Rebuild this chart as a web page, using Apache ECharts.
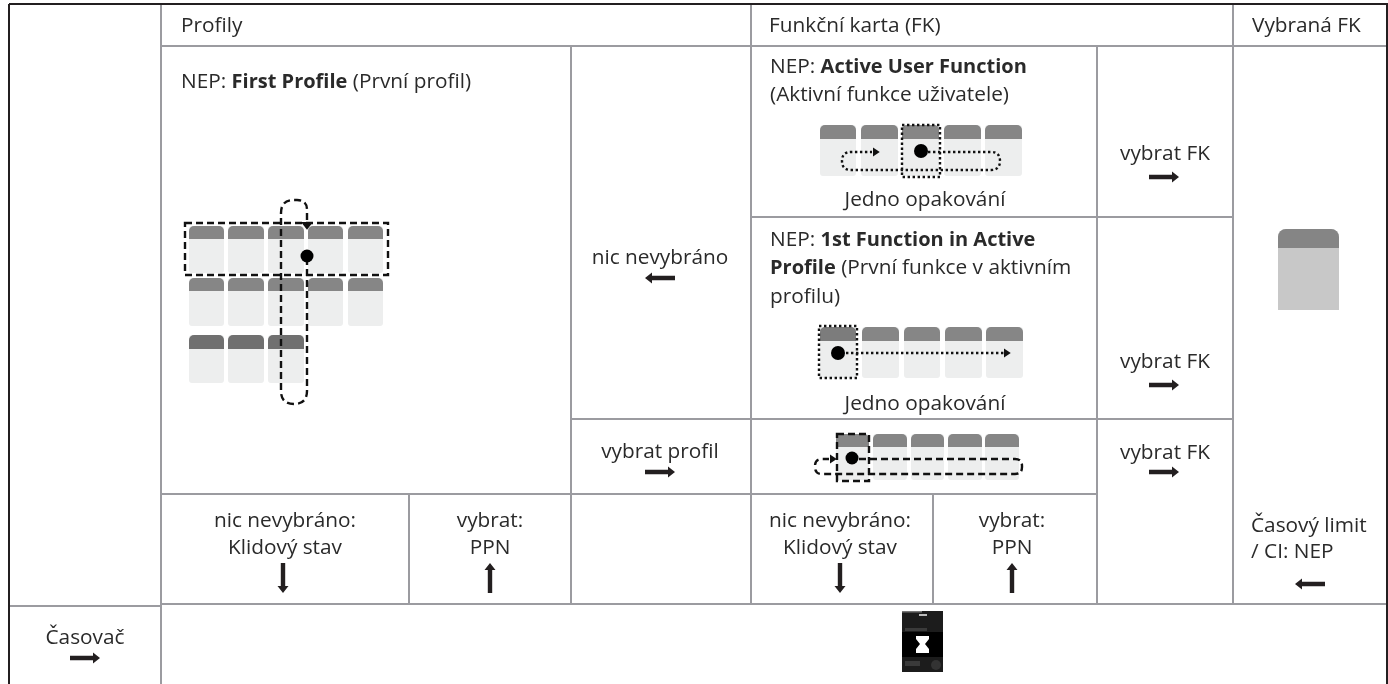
<!DOCTYPE html>
<html><head><meta charset="utf-8">
<style>html,body{margin:0;padding:0;background:#fff}#c{width:1388px;height:684px}</style>
<script src="https://cdn.jsdelivr.net/npm/echarts@6/dist/echarts.min.js"></script>
</head><body><div id="c"></div>
<script>
// [x1,y1,x2,y2]
const gridLines=[[161,4,161,684],[161,46,1387,46],[751,4,751,604],[1233,4,1233,604],[571,46,571,604],[1097,46,1097,604],
[751,217,1233,217],[571,419,1233,419],[161,494,1097,494],[409,494,409,604],[933,494,933,604],[9,606,161,606],[161,604,1387,604]];
const borderLines=[[9,4,1388,4],[9,4,9,684],[1387,4,1387,684]];
// [cx or left, y, align, text]
const labels=[
[181,25,'left','Profily'],[769,25,'left','Funkční karta (FK)'],[1252,25,'left','Vybraná FK'],
[181,81,'left','NEP: {b|First Profile} (První profil)'],
[770,66,'left','NEP: {b|Active User Function}'],[770,94,'left','(Aktivní funkce uživatele)'],
[925,199,'center','Jedno opakování'],
[770,239,'left','NEP: {b|1st Function in Active}'],[770,267,'left','{b|Profile} (První funkce v aktivním'],[770,296,'left','profilu)'],
[925,403,'center','Jedno opakování'],
[1165,153,'center','vybrat FK'],[1165,361,'center','vybrat FK'],[1165,452,'center','vybrat FK'],
[660,257,'center','nic nevybráno'],[660,451,'center','vybrat profil'],
[285,520,'center','nic nevybráno:'],[285,547,'center','Klidový stav'],
[490,520,'center','vybrat:'],[490,547,'center','PPN'],
[840,520,'center','nic nevybráno:'],[840,547,'center','Klidový stav'],
[1012,520,'center','vybrat:'],[1012,547,'center','PPN'],
[1251,525,'left','Časový limit'],[1251,551,'left','/ CI: NEP'],
[85,637,'center','Časovač']];
// [x,y,w,h,headerH,headerColor]
const cards=[
[189,226,35,47,13,'#868686'],[228,226,36,47,13,'#868686'],[268,226,36,47,13,'#868686'],[308,226,35,47,13,'#868686'],[348,226,35,47,13,'#868686'],
[189,278,35,48,13,'#868686'],[228,278,36,48,13,'#868686'],[268,278,36,48,13,'#868686'],[308,278,35,48,13,'#868686'],[348,278,35,48,13,'#868686'],
[189,335,35,48,14,'#707070'],[228,335,36,48,14,'#707070'],[268,335,36,48,14,'#707070'],
[820,125,36,51,14,'#868686'],[861,125,37,51,14,'#868686'],[902,125,37,51,14,'#868686'],[944,125,37,51,14,'#868686'],[985,125,37,51,14,'#868686'],
[820,327,36,51,14,'#7c7c7c'],[862,327,37,51,14,'#868686'],[904,327,36,51,14,'#868686'],[945,327,37,51,14,'#868686'],[986,327,37,51,14,'#868686'],
[836,434,33,46,13,'#868686'],[873,434,34,46,13,'#868686'],[911,434,33,46,13,'#868686'],[948,434,34,46,13,'#868686'],[985,434,34,46,13,'#868686']];
const bigCard=[1278,229,61,81,19];
// [x,y,r]
const dots=[[307,256,6.5],[921,151,7],[838,353,7],[852,458,6.5]];
// [x,y,w,h,dash]
const boxes=[[185,223,203,52,'dash'],[902,125,38,52,'dot'],[819,326,38,52,'dot'],[837,434,32,47,'dash']];
// polyline routes [dash, points...], arcs are sampled by rounded corners r
const routes=[
['dash',[[307,258],[307,404],[281,404],[281,200],[307,200],[307,220]],13,[307,222,'down']],
['dot',[[928,152],[1000,152],[1000,170],[842,170],[842,152],[872,152]],9,[873,152,'right']],
['dot',[[846,353],[1004,353]],0,[1004,353,'right']],
['dash',[[859,459],[1022,459],[1022,474],[815,474],[815,459],[829,459]],7,[830,459,'right']]];
// [x,y,dir]
const arrows=[[70,658,'right'],[645,278,'left'],[1149,177,'right'],[1149,385,'right'],[1149,472,'right'],[645,472,'right'],
[283,563,'down'],[490,563,'up'],[840,563,'down'],[1012,563,'up'],[1295,584,'left']];

const chart=echarts.init(document.getElementById('c'),null,{renderer:'canvas'});
const font='"Open Sans", sans-serif';
const fs=20.8, fb=20;
const txtColor='#2a2a2a';
const P=(api,x,y)=>api.coord([x,y]);
function lineSeries(name,data,color,width){
 return {type:'custom',name,coordinateSystem:'cartesian2d',silent:true,clip:false,data,
 renderItem(p,api){const a=P(api,api.value(0),api.value(1)),b=P(api,api.value(2),api.value(3));
  return {type:'line',shape:{x1:a[0],y1:a[1],x2:b[0],y2:b[1]},style:{stroke:color,lineWidth:width}};}};
}
function pathOf(pts,r){
 let d='M'+pts[0].join(' ');
 for(let i=1;i<pts.length;i++){const c=pts[i];
  if(i<pts.length-1&&r>0){const n=pts[i+1],pr=pts[i-1];
   const ux=Math.sign(c[0]-pr[0]),uy=Math.sign(c[1]-pr[1]),vx=Math.sign(n[0]-c[0]),vy=Math.sign(n[1]-c[1]);
   const la=Math.abs(c[0]-pr[0])+Math.abs(c[1]-pr[1]),lb=Math.abs(n[0]-c[0])+Math.abs(n[1]-c[1]);
   const rr=Math.min(r,la/2,lb/2);
   d+=' L'+(c[0]-ux*rr)+' '+(c[1]-uy*rr)+' Q'+c[0]+' '+c[1]+' '+(c[0]+vx*rr)+' '+(c[1]+vy*rr);
  } else d+=' L'+c.join(' ');
 }
 return d;
}
const dashOf=k=>k==='dash'?[7,4]:[2.4,2.6];
function head(x,y,dir,s){
 const m={right:[[x,y-s],[x+s*1.5,y],[x,y+s]],left:[[x,y-s],[x-s*1.5,y],[x,y+s]],down:[[x-s,y],[x,y+s*1.3],[x+s,y]],up:[[x-s,y],[x,y-s*1.3],[x+s,y]]}[dir];
 return {type:'polygon',shape:{points:m},style:{fill:'#111'}};
}
const option={animation:false,
 grid:{left:0,right:0,top:0,bottom:0},
 xAxis:{type:'value',min:0,max:1388,show:false},
 yAxis:{type:'value',min:0,max:684,inverse:true,show:false},
 series:[
 lineSeries('grid',gridLines,'#9b9ba0',2),
 lineSeries('border',borderLines,'#231f20',2),
 {type:'custom',name:'cards',silent:true,data:cards.map(c=>c.slice(0,5)),
  renderItem(p,api){const c=cards[p.dataIndex],a=P(api,c[0],c[1]);
   return {type:'group',children:[
    {type:'rect',shape:{x:a[0],y:a[1],width:c[2],height:c[3],r:3},style:{fill:'#edeeee'}},
    {type:'rect',shape:{x:a[0],y:a[1],width:c[2],height:c[4],r:[5,5,0,0]},style:{fill:c[5]}}]};}},
 {type:'custom',name:'bigCard',silent:true,data:[bigCard],
  renderItem(p,api){const c=bigCard,a=P(api,c[0],c[1]);
   return {type:'group',children:[
    {type:'rect',shape:{x:a[0],y:a[1],width:c[2],height:c[3],r:[8,8,0,0]},style:{fill:'#c8c8c8'}},
    {type:'rect',shape:{x:a[0],y:a[1],width:c[2],height:c[4],r:[8,8,0,0]},style:{fill:'#858585'}}]};}},
 {type:'custom',name:'device',silent:true,data:[[902,611,41,61]],
  renderItem(p,api){const a=P(api,api.value(0),api.value(1)),x=a[0],y=a[1];
   const hg=[[x+14,y+25],[x+27,y+25],[x+27,y+28],[x+23,y+33],[x+27,y+38],[x+27,y+42],[x+14,y+42],[x+14,y+38],[x+18,y+33],[x+14,y+28]];
   return {type:'group',children:[
    {type:'rect',shape:{x,y,width:41,height:61},style:{fill:'#1c1c1c'}},
    {type:'rect',shape:{x,y,width:20,height:1.5},style:{fill:'#777'}},
    {type:'rect',shape:{x,y:y+21,width:41,height:25},style:{fill:'#000'}},
    {type:'rect',shape:{x:x+17,y:y+3,width:8,height:2},style:{fill:'#bbb'}},
    {type:'rect',shape:{x:x+3,y:y+17,width:22,height:3},style:{fill:'#3a3a3a'}},
    {type:'rect',shape:{x:x+3,y:y+50,width:15,height:5},style:{fill:'#3a3a3a'}},
    {type:'circle',shape:{cx:x+34,cy:y+54,r:5},style:{fill:'#333'}},
    {type:'polygon',shape:{points:hg},style:{fill:'#fff'}}]};}},
 {type:'custom',name:'boxes',silent:true,data:boxes.map(b=>b.slice(0,4)),
  renderItem(p,api){const b=boxes[p.dataIndex],a=P(api,b[0],b[1]);
   return {type:'rect',shape:{x:a[0],y:a[1],width:b[2],height:b[3]},style:{fill:'none',stroke:'#111',lineWidth:2.4,lineDash:dashOf(b[4])}};}},
 {type:'custom',name:'routes',silent:true,data:routes.map(r=>r[1][0]),
  renderItem(p,api){const r=routes[p.dataIndex],pts=r[1].map(q=>P(api,q[0],q[1])),h=r[3],ha=P(api,h[0],h[1]);
   return {type:'group',children:[
    {type:'path',shape:{pathData:pathOf(pts,r[2])},style:{fill:'none',stroke:'#111',lineWidth:2.4,lineDash:dashOf(r[0])}},
    head(ha[0],ha[1],h[2],h[2]==='down'?6:4.5)]};}},
 {type:'scatter',name:'dots',data:dots,symbolSize:d=>d[2]*2,itemStyle:{color:'#000',opacity:1},silent:true},
 {type:'custom',name:'arrows',silent:true,data:arrows.map(a=>a.slice(0,2)),
  renderItem(p,api){const r=arrows[p.dataIndex],a=P(api,r[0],r[1]),x=a[0],y=a[1],d=r[2];
   const L=30,hl=7,hw=5.5,t=2.2;let pts;
   if(d==='right')pts=[[x,y-t],[x+L-hl,y-t],[x+L-hl,y-hw],[x+L,y],[x+L-hl,y+hw],[x+L-hl,y+t],[x,y+t]];
   if(d==='left')pts=[[x+L,y-t],[x+hl,y-t],[x+hl,y-hw],[x,y],[x+hl,y+hw],[x+hl,y+t],[x+L,y+t]];
   if(d==='down')pts=[[x-t,y],[x-t,y+L-hl],[x-hw,y+L-hl],[x,y+L],[x+hw,y+L-hl],[x+t,y+L-hl],[x+t,y]];
   if(d==='up')pts=[[x-t,y+L],[x-t,y+hl],[x-hw,y+hl],[x,y],[x+hw,y+hl],[x+t,y+hl],[x+t,y+L]];
   return {type:'polygon',shape:{points:pts},style:{fill:'#231f20'}};}},
 {type:'custom',name:'labels',silent:true,data:labels.map(l=>l.slice(0,2)),
  renderItem(p,api){const l=labels[p.dataIndex],a=P(api,l[0],l[1]);
   return {type:'text',x:a[0],y:a[1]+1,style:{text:l[3],align:l[2],verticalAlign:'middle',font:fs+'px '+font,fill:txtColor,
    rich:{b:{font:'bold '+fb+'px '+font,fill:txtColor}}}};}}
 ]};
chart.setOption(option);
</script></body></html>
